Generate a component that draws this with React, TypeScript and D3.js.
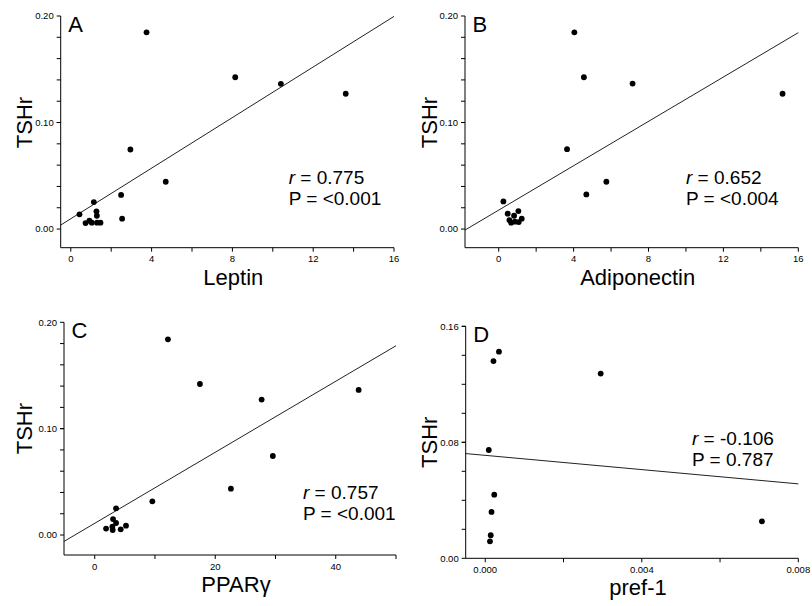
import React from "react";
import * as d3 from "d3";

// values
const leptinX = [0.43, 0.73, 0.92, 1.04, 1.14, 1.27, 1.29, 1.3, 1.47, 2.49, 2.54, 2.95, 3.75, 4.7, 8.14, 10.4, 13.61];
const leptinY = [0.0138, 0.0056, 0.0078, 0.006, 0.0253, 0.0166, 0.0125, 0.006, 0.006, 0.032, 0.0097, 0.0747, 0.1847, 0.0444, 0.1425, 0.1363, 0.127];

const adipoX = [0.25, 0.48, 0.57, 0.66, 0.82, 0.87, 1.05, 1.07, 1.23, 3.65, 4.04, 4.55, 4.68, 5.75, 7.15, 15.16];
const adipoY = [0.0259, 0.0144, 0.0084, 0.006, 0.0125, 0.0069, 0.0169, 0.0066, 0.0097, 0.075, 0.1847, 0.1425, 0.0325, 0.0444, 0.1366, 0.127];

const pparX = [1.88, 2.93, 2.98, 3.04, 3.54, 3.54, 4.31, 5.19, 9.56, 12.15, 17.46, 22.6, 27.7, 29.56, 43.8];
const pparY = [0.006, 0.0078, 0.0047, 0.015, 0.0251, 0.0113, 0.0053, 0.0088, 0.0317, 0.184, 0.142, 0.0436, 0.1273, 0.0743, 0.1364];

const prefX = [0.00012, 0.00014, 0.00016, 0.00023, 0.00009, 0.00021, 0.00035, 0.00295, 0.00707];
const prefY = [0.0117, 0.0159, 0.032, 0.0439, 0.0747, 0.136, 0.1425, 0.1274, 0.0255];

// regression lines: [intercept, slope]
const fitA = [0.0097, 0.01187];
const fitB = [0.0178, 0.01041];
const fitC = [0.011, 0.003339];
const fitD = [0.071, -2.459];

const panelLetters = ["A", "B", "C", "D"];
const xTitles = ["Leptin", "Adiponectin", "PPARγ", "pref-1"];
const rTexts = ["0.775", "0.652", "0.757", "-0.106"];
const pTexts = ["<0.001", "<0.004", "<0.001", "0.787"];

const FONT = "Arial, 'Liberation Sans', sans-serif";

const panels = [
  {
    xs: leptinX, ys: leptinY, fit: fitA,
    box: { l: 60.7, r: 394, t: 16, b: 247.7 },
    xDom: [-0.5, 16], yDom: [-0.0175, 0.2],
    xMajor: [0, 4, 8, 12, 16], xMinor: [2, 6, 10, 14], xFmt: d3.format("d"),
    yMajor: [0, 0.1, 0.2], yMinor: d3.range(0.02, 0.2, 0.02), yFmt: d3.format(".2f"),
    stat: { x: 288.7, y: 184 }, ylab: { x: 31.7 },
  },
  {
    xs: adipoX, ys: adipoY, fit: fitB,
    box: { l: 465, r: 798.3, t: 16, b: 247.7 },
    xDom: [-1.8, 16], yDom: [-0.0175, 0.2],
    xMajor: [0, 4, 8, 12, 16], xMinor: [2, 6, 10, 14], xFmt: d3.format("d"),
    yMajor: [0, 0.1, 0.2], yMinor: d3.range(0.02, 0.2, 0.02), yFmt: d3.format(".2f"),
    stat: { x: 686, y: 184 }, ylab: { x: 436.7 },
  },
  {
    xs: pparX, ys: pparY, fit: fitC,
    box: { l: 64, r: 396, t: 322.3, b: 555 },
    xDom: [-5.1, 50], yDom: [-0.0188, 0.2],
    xMajor: [0, 20, 40], xMinor: [10, 30, 50], xFmt: d3.format("d"),
    yMajor: [0, 0.1, 0.2], yMinor: d3.range(0.02, 0.2, 0.02), yFmt: d3.format(".2f"),
    stat: { x: 303, y: 499 }, ylab: { x: 31.7 },
  },
  {
    xs: prefX, ys: prefY, fit: fitD,
    box: { l: 465.7, r: 798.3, t: 326.3, b: 558.3 },
    xDom: [-0.0005, 0.008], yDom: [0, 0.16],
    xMajor: [0, 0.004, 0.008], xMinor: [0.002, 0.006], xFmt: d3.format(".3f"),
    yMajor: [0, 0.08, 0.16], yMinor: d3.range(0.02, 0.16, 0.02), yFmt: d3.format(".2f"),
    stat: { x: 692, y: 445 }, ylab: { x: 436.7 },
  },
];

const Panel = ({ p, i }: { p: any; i: number }) => {
  const x = d3.scaleLinear().domain(p.xDom).range([p.box.l, p.box.r]);
  const y = d3.scaleLinear().domain(p.yDom).range([p.box.b, p.box.t]);
  const line = d3.line<number>().x(d => x(d)).y(d => y(p.fit[0] + p.fit[1] * d));
  const pts = p.xs.map((v: number, k: number) => [v, p.ys[k]]);
  const yTickMin = y(p.yMajor[0]);
  return (
    <g>
      {/* axes */}
      <line x1={p.box.l} x2={p.box.l} y1={y(p.yDom[1])} y2={p.box.b} stroke="#000" />
      <line x1={p.box.l} x2={p.box.r} y1={p.box.b} y2={p.box.b} stroke="#000" />
      {[...p.yMajor, ...p.yMinor].map((t: number, k: number) => (
        <line key={"yt" + k} x1={p.box.l - 4} x2={p.box.l} y1={y(t)} y2={y(t)} stroke="#000" />
      ))}
      {p.yMajor.map((t: number, k: number) => (
        <text key={"yl" + k} x={p.box.l - 7} y={y(t)} dy="0.35em" textAnchor="end" fontSize={9.5} fontFamily={FONT}>
          {p.yFmt(t)}
        </text>
      ))}
      {[...p.xMajor, ...p.xMinor].map((t: number, k: number) => (
        <line key={"xt" + k} x1={x(t)} x2={x(t)} y1={p.box.b} y2={p.box.b + 4} stroke="#000" />
      ))}
      {p.xMajor.map((t: number, k: number) => (
        <text key={"xl" + k} x={x(t)} y={p.box.b + 14.5} textAnchor="middle" fontSize={9.5} fontFamily={FONT}>
          {p.xFmt(t)}
        </text>
      ))}
      {/* fit line */}
      <path d={line(p.xDom) || ""} fill="none" stroke="#222" strokeWidth={1} />
      {/* points */}
      {pts.map((d: number[], k: number) => (
        <circle key={"c" + k} cx={x(d[0])} cy={y(d[1])} r={2.9} fill="#000" />
      ))}
      {/* labels */}
      <text x={p.box.l + 7.5} y={y(p.yDom[1]) + 16} fontSize={22} fontFamily={FONT}>{panelLetters[i]}</text>
      <text x={p.stat.x} y={p.stat.y} fontSize={19} fontFamily={FONT}>
        <tspan fontStyle="italic">r</tspan> = {rTexts[i]}
      </text>
      <text x={p.stat.x} y={p.stat.y + 20.5} fontSize={19} fontFamily={FONT}>P = {pTexts[i]}</text>
      <text x={(p.box.l + p.box.r) / 2 + 6} y={p.box.b + 37} textAnchor="middle" fontSize={22} fontFamily={FONT}>
        {xTitles[i]}
      </text>
      <text
        transform={`translate(${p.ylab.x},${(y(p.yDom[1]) + yTickMin) / 2}) rotate(-90)`}
        textAnchor="middle" fontSize={22} fontFamily={FONT}
      >
        TSHr
      </text>
    </g>
  );
};

const App = () => {
  return (
    <svg width={812} height={606} style={{ position: "absolute", left: 0, top: 0, background: "#fff" }}>
      <rect width={812} height={606} fill="#fff" />
      {panels.map((p, i) => <Panel key={i} p={p} i={i} />)}
    </svg>
  );
};

export default App;
